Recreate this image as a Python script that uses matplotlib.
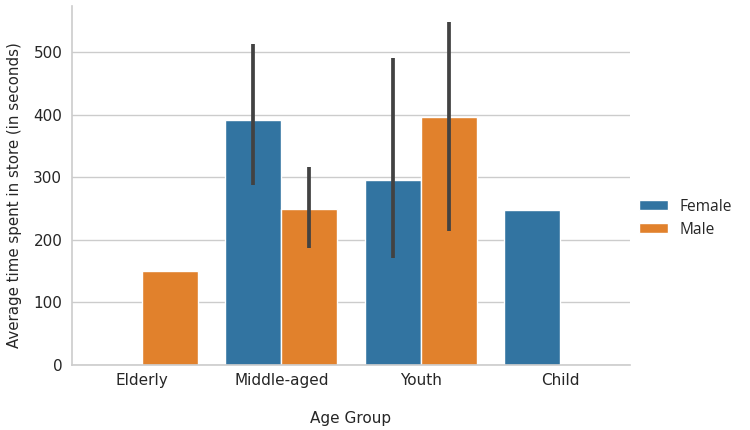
import numpy as np
import matplotlib
matplotlib.use("Agg")
import matplotlib.pyplot as plt

categories = ['Elderly', 'Middle-aged', 'Youth', 'Child']
genders = ['Female', 'Male']
female_mean = [np.nan, 392, 296, 248]
male_mean = [150, 250, 397, np.nan]
female_ci_low = [np.nan, 288, 171, np.nan]
female_ci_high = [np.nan, 514, 491, np.nan]
male_ci_low = [np.nan, 187, 214, np.nan]
male_ci_high = [np.nan, 317, 548, np.nan]

colors = ['#3274a1', '#e1812c']
text_color = '#262626'

fig = plt.figure(figsize=(7.5, 4.3), dpi=100)
ax = fig.add_axes([72/750, 65/430, 558/750, 359/430])

x = np.arange(len(categories))
width = 0.4
series = [
    (female_mean, female_ci_low, female_ci_high, -0.2),
    (male_mean, male_ci_low, male_ci_high, 0.2),
]
handles = []
for (vals, lo, hi, off), col, name in zip(series, colors, genders):
    vals = np.array(vals, dtype=float)
    mask = ~np.isnan(vals)
    b = ax.bar(x[mask] + off, vals[mask], width=width, color=col,
               edgecolor='white', linewidth=1, zorder=2, label=name)
    handles.append(b)
    lo = np.array(lo, dtype=float)
    hi = np.array(hi, dtype=float)
    m2 = ~np.isnan(lo)
    ax.vlines(x[m2] + off, lo[m2], hi[m2], color='#424242', linewidth=2.7,
              zorder=3)

ax.set_xlim(-0.5, len(categories) - 0.5)
ax.set_ylim(0, 574)
ax.set_xticks(x)
ax.set_xticklabels(categories)
ax.set_yticks([0, 100, 200, 300, 400, 500])
ax.yaxis.grid(True, color='#cccccc', linewidth=1, zorder=0)
ax.xaxis.grid(False)
ax.set_axisbelow(True)
for s in ['top', 'right']:
    ax.spines[s].set_visible(False)
for s in ['left', 'bottom']:
    ax.spines[s].set_color('#cccccc')
    ax.spines[s].set_linewidth(1.2)
ax.tick_params(axis='both', length=0, labelsize=11, colors=text_color)
ax.tick_params(axis='x', pad=5.5)
ax.tick_params(axis='y', pad=7)
ax.set_xlabel('Age Group', fontsize=11, color=text_color, labelpad=16.5)
ax.set_ylabel('Average time spent in store (in seconds)', fontsize=10.8,
              color=text_color, labelpad=8)
ax.yaxis.label.set_y(0.472)

fig.legend(handles=handles, labels=genders, loc='center left',
           bbox_to_anchor=(0.833, 0.493), frameon=False,
           prop={'family': 'Open Sans', 'size': 11.2},
           handlelength=1.9, handleheight=0.65, handletextpad=0.75,
           labelspacing=0.45, labelcolor=text_color)

fig.savefig('out.png', dpi=100)
